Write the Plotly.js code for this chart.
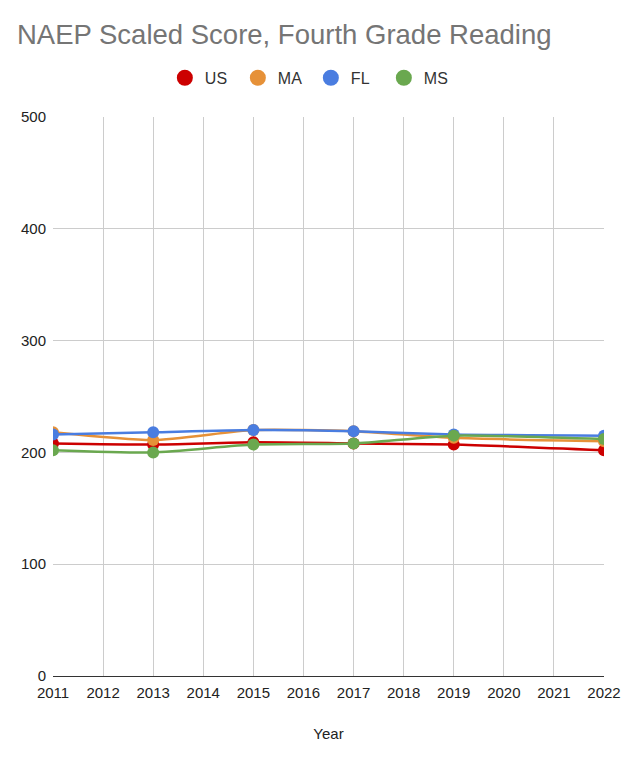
<!DOCTYPE html>
<html>
<head>
<meta charset="utf-8">
<script src="https://cdn.plot.ly/plotly-3.0.1.min.js"></script>
<style>
  html, body { margin: 0; padding: 0; background: #fff; }
  #chart { width: 630px; height: 758px; }
</style>
</head>
<body>
<div id="chart"></div>
<script>
var years = [2011, 2013, 2015, 2017, 2019, 2022];

var us = [208, 207, 209, 208, 207, 202];
var ma = [218, 211, 220, 219, 213, 210];
var fl = [216, 218, 220, 219, 216, 215];
var ms = [202, 200, 207, 208, 215, 212];

var seriesNames = ['US', 'MA', 'FL', 'MS'];
var seriesColors = ['#cc0000', '#e69138', '#4a7de0', '#6aa84f'];

var yTicks = [0, 100, 200, 300, 400, 500];
var xTicks = [2011, 2012, 2013, 2014, 2015, 2016, 2017, 2018, 2019, 2020, 2021, 2022];

var font = 'Liberation Sans, Arial, sans-serif';

function makeTrace(name, values, color) {
    return {
        x: years,
        y: values,
        name: name,
        type: 'scatter',
        mode: 'lines+markers',
        line: { color: color, width: 2.5, shape: 'spline', smoothing: 0.6 },
        marker: { color: color, size: 12 },
        showlegend: false,
        hoverinfo: 'x+y+name'
    };
}

// legend shows only a circle, so add marker-only stand-ins
function legendTrace(name, color) {
    return {
        x: [null],
        y: [null],
        name: name,
        type: 'scatter',
        mode: 'markers',
        marker: { color: color, size: 16 },
        showlegend: true
    };
}

var allValues = [us, ma, fl, ms];
var data = [];
for (var i = 0; i < seriesNames.length; i++) {
    data.push(makeTrace(seriesNames[i], allValues[i], seriesColors[i]));
}
for (var j = 0; j < seriesNames.length; j++) {
    data.push(legendTrace(seriesNames[j], seriesColors[j]));
}

var layout = {
    width: 630,
    height: 758,
    margin: { l: 53, r: 26, t: 117, b: 82 },
    paper_bgcolor: '#fff',
    plot_bgcolor: '#fff',
    font: { family: font, size: 15, color: '#222' },
    title: {
        text: 'NAEP Scaled Score, Fourth Grade Reading',
        font: { family: font, size: 27.5, color: '#757575' },
        x: 0.027, xref: 'container', xanchor: 'left',
        y: 0.954, yref: 'container', yanchor: 'middle'
    },
    showlegend: true,
    legend: {
        orientation: 'h',
        x: 0.203, xanchor: 'left',
        y: 1.07, yanchor: 'middle',
        entrywidth: 28,
        font: { family: font, size: 16, color: '#333' },
        traceorder: 'normal'
    },
    xaxis: {
        range: [2011, 2022],
        tickvals: xTicks,
        ticktext: xTicks.map(String),
        showgrid: true,
        gridcolor: '#cccccc',
        gridwidth: 1,
        zeroline: false,
        showline: false,
        ticks: '',
        ticklabelstandoff: 6,
        tickfont: { family: font, size: 15, color: '#222' },
        title: { text: 'Year', font: { family: font, size: 15, color: '#222' }, standoff: 28 },
        fixedrange: true
    },
    yaxis: {
        range: [0, 500],
        tickvals: yTicks,
        showgrid: true,
        gridcolor: '#cccccc',
        gridwidth: 1,
        zeroline: true,
        zerolinecolor: '#333333',
        zerolinewidth: 1,
        ticks: '',
        ticklabelstandoff: 6,
        tickfont: { family: font, size: 15, color: '#222' },
        fixedrange: true
    }
};

Plotly.newPlot('chart', data, layout, { displayModeBar: false });
</script>
</body>
</html>
